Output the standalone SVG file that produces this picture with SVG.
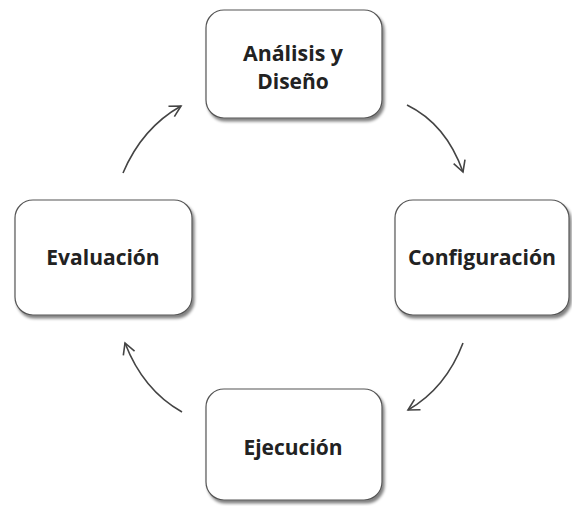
<svg xmlns="http://www.w3.org/2000/svg" width="572" height="506" viewBox="0 0 572 506">
<defs>
<filter id="sh" x="-10%" y="-10%" width="130%" height="130%">
<feGaussianBlur in="SourceAlpha" stdDeviation="1.5"/>
<feOffset dx="2" dy="3" result="b"/>
<feComponentTransfer><feFuncA type="linear" slope="0.5"/></feComponentTransfer>
<feMerge><feMergeNode/><feMergeNode in="SourceGraphic"/></feMerge>
</filter>
<marker id="ah" viewBox="0 0 14 14" refX="12" refY="7" markerWidth="14" markerHeight="14" markerUnits="userSpaceOnUse" orient="auto">
<path d="M1,1 L12,7 L1,13" fill="none" stroke="#444" stroke-width="1.6"/>
</marker>
</defs>
<style>
.box{fill:#fff;stroke:#555;stroke-width:1.2;filter:url(#sh)}
.lbl{font-family:"Open Sans","Noto Sans",sans-serif;font-weight:bold;font-size:21px;fill:#222;text-anchor:middle}
.arr{fill:none;stroke:#444;stroke-width:1.6;marker-end:url(#ah)}
</style>
<rect width="572" height="506" fill="#fff"/>
<g id="analisis">
<rect class="box" x="206" y="10" width="176" height="108" rx="18"/>
<text class="lbl" x="293" y="61" textLength="100" lengthAdjust="spacingAndGlyphs">Análisis y</text>
<text class="lbl" x="293" y="89">Diseño</text>
</g>
<g id="configuracion">
<rect class="box" x="395" y="200" width="174" height="115" rx="18"/>
<text class="lbl" x="482" y="265" textLength="148" lengthAdjust="spacingAndGlyphs">Configuración</text>
</g>
<g id="ejecucion">
<rect class="box" x="206" y="389" width="176" height="111" rx="18"/>
<text class="lbl" x="293" y="455">Ejecución</text>
</g>
<g id="evaluacion">
<rect class="box" x="15" y="200" width="177" height="115" rx="18"/>
<text class="lbl" x="103" y="265">Evaluación</text>
</g>
<g id="connectors">
<path class="arr" d="M123,173 Q142,128 181,106"/>
<path class="arr" d="M407,105 Q446,124 463,172"/>
<path class="arr" d="M463,343 Q446,388 408,410"/>
<path class="arr" d="M182,412 Q143,390 125,343"/>
</g>
</svg>
